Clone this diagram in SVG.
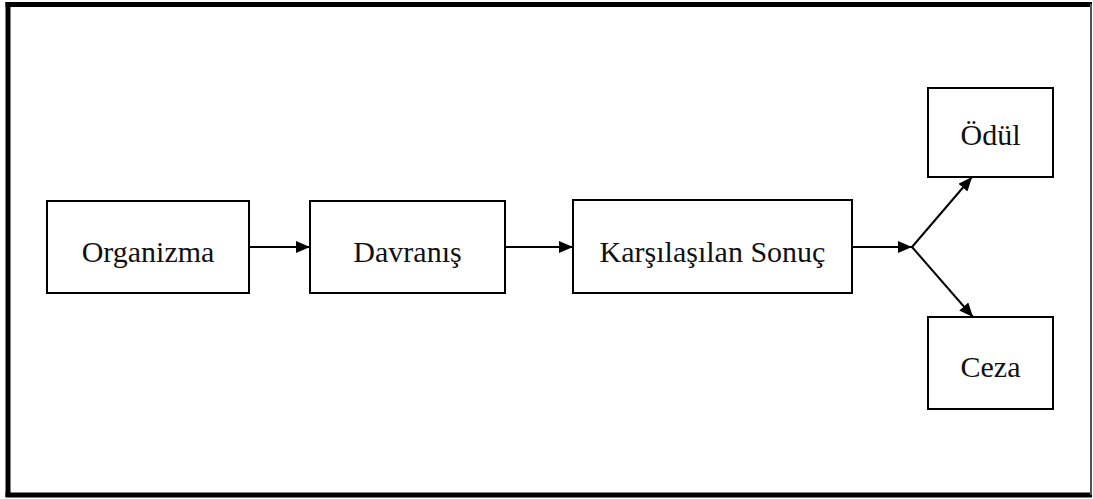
<svg xmlns="http://www.w3.org/2000/svg" width="1093" height="499" viewBox="0 0 1093 499">
<style>
.box{fill:#fff;stroke:#000;stroke-width:2}
.lbl{font-family:"Liberation Serif","Times New Roman",serif;font-size:30px;fill:#111;text-anchor:middle}
.con{stroke:#000;stroke-width:2;fill:none}
</style>
<defs>
<marker id="ah" markerWidth="14" markerHeight="12" refX="14" refY="6" orient="auto" markerUnits="userSpaceOnUse">
<path d="M0,0 L14,6 L0,12 Z" fill="#000"/>
</marker>
</defs>
<rect x="0" y="0" width="1093" height="499" fill="#fff"/>
<g id="frame">
<line x1="5.5" y1="4.5" x2="1092" y2="4.5" stroke="#000" stroke-width="5"/>
<line x1="8" y1="2" x2="8" y2="497" stroke="#000" stroke-width="5"/>
<line x1="5.5" y1="495" x2="1092" y2="495" stroke="#000" stroke-width="5"/>
<line x1="1091" y1="4" x2="1091" y2="495" stroke="#555" stroke-width="2"/>
</g>
<g id="organizma"><rect class="box" x="47" y="201" width="202" height="92"/><text class="lbl" x="148" y="262">Organizma</text></g>
<g id="davranis"><rect class="box" x="310" y="201" width="195" height="92"/><text class="lbl" x="407.5" y="262">Davranış</text></g>
<g id="sonuc"><rect class="box" x="573" y="200" width="279" height="93"/><text class="lbl" x="712.5" y="262">Karşılaşılan Sonuç</text></g>
<g id="odul"><rect class="box" x="928" y="88" width="125" height="89"/><text class="lbl" x="990.5" y="145">Ödül</text></g>
<g id="ceza"><rect class="box" x="928" y="317" width="125" height="92"/><text class="lbl" x="990.5" y="377">Ceza</text></g>
<g id="connectors">
<line class="con" x1="249" y1="247" x2="310" y2="247" marker-end="url(#ah)"/>
<line class="con" x1="505" y1="247" x2="573" y2="247" marker-end="url(#ah)"/>
<line class="con" x1="852" y1="247" x2="912" y2="247" marker-end="url(#ah)"/>
<line class="con" x1="912" y1="247" x2="972" y2="177" marker-end="url(#ah)"/>
<line class="con" x1="912" y1="247" x2="973" y2="317" marker-end="url(#ah)"/>
</g>
</svg>
